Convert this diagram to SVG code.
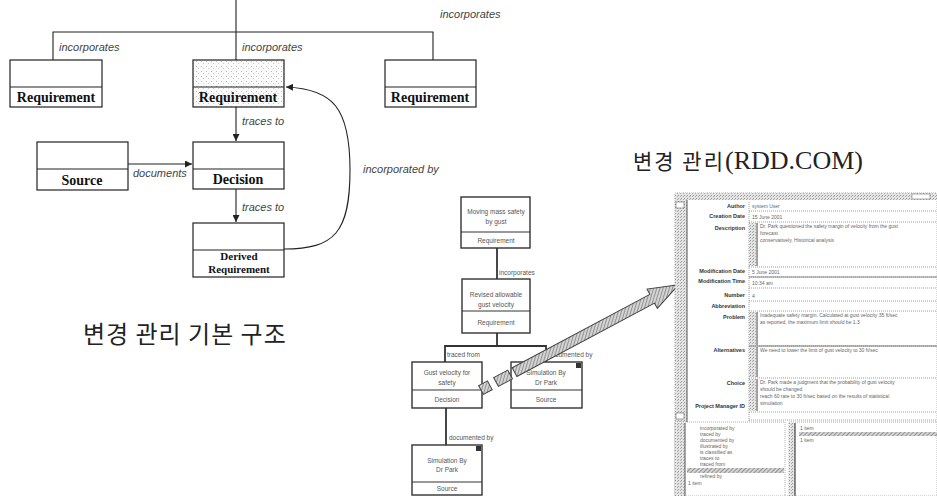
<svg xmlns="http://www.w3.org/2000/svg" width="937" height="496" viewBox="0 0 937 496">
<defs>
<style>
.box{fill:#fff;stroke:#222;stroke-width:1.2}
.ln{stroke:#222;stroke-width:1.1;fill:none}
.lbl{font-family:"Liberation Serif",serif;font-weight:bold;font-size:14px;text-anchor:middle;fill:#111}
.it{font-family:"Liberation Sans",sans-serif;font-style:italic;font-size:11px;fill:#444}
.kr{font-family:"Noto Sans CJK KR",sans-serif;fill:#222}
.mbox{fill:#fff;stroke:#333;stroke-width:1.4}
.mln{stroke:#333;stroke-width:1.8;fill:none}
.sm{font-family:"Liberation Sans",sans-serif;font-size:6.5px;fill:#555;text-anchor:middle}
.sml{font-family:"Liberation Sans",sans-serif;font-size:6.5px;fill:#555}
.fl{font-family:"Liberation Sans",sans-serif;font-size:5.5px;font-weight:bold;fill:#333;text-anchor:end}
.fv{font-family:"Liberation Sans",sans-serif;font-size:5px;fill:#666}
.dot{stroke:#888;stroke-width:0.8;stroke-dasharray:1 1;fill:none}
</style>
<pattern id="stip" width="5" height="5" patternUnits="userSpaceOnUse">
<rect width="5" height="5" fill="#fafafa"/>
<rect x="1" y="1" width="1" height="1" fill="#bbb"/>
<rect x="3" y="3" width="1" height="1" fill="#ccc"/>
</pattern>
<pattern id="stip2" width="3" height="3" patternUnits="userSpaceOnUse">
<rect width="3" height="3" fill="#e4e4e4"/>
<rect x="0" y="0" width="1" height="1" fill="#999"/>
<rect x="2" y="1" width="1" height="1" fill="#aaa"/>
</pattern>
<pattern id="hatch" width="3" height="3" patternUnits="userSpaceOnUse" patternTransform="rotate(45)">
<rect width="3" height="3" fill="#d4d4d4"/>
<line x1="0" y1="0" x2="0" y2="3" stroke="#666" stroke-width="1.2"/>
</pattern>
<marker id="ah" viewBox="0 0 10 10" refX="10" refY="5" markerWidth="7" markerHeight="7" orient="auto" markerUnits="userSpaceOnUse">
<path d="M0,0 L10,5 L0,10 z" fill="#222"/>
</marker>
</defs>
<rect width="937" height="496" fill="#fff"/>

<g id="connectors">
<line class="ln" x1="236" y1="0" x2="236" y2="60"/>
<polyline class="ln" points="53,60 53,32 433,32 433,60"/>
<line class="ln" x1="236" y1="107" x2="236" y2="141" marker-end="url(#ah)"/>
<line class="ln" x1="128" y1="164" x2="192" y2="164" marker-end="url(#ah)"/>
<line class="ln" x1="236" y1="189" x2="236" y2="222" marker-end="url(#ah)"/>
<path class="ln" d="M284,249 C335,249 350,232 350,170 C350,108 333,89 286,87" marker-end="url(#ah)"/>
<text class="it" x="440" y="18">incorporates</text>
<text class="it" x="59" y="51">incorporates</text>
<text class="it" x="242" y="51">incorporates</text>
<text class="it" x="242" y="125">traces to</text>
<text class="it" x="133" y="177">documents</text>
<text class="it" x="242" y="211">traces to</text>
<text class="it" x="363" y="173">incorporated by</text>
<line class="mln" x1="497" y1="248" x2="497" y2="279"/>
<polyline class="mln" points="497,333 497,346"/>
<polyline class="mln" points="445,362 445,346 546,346 546,362"/>
<line class="mln" x1="446" y1="408" x2="446" y2="445"/>
<text class="sml" x="499" y="275">incorporates</text>
<text class="sml" x="447" y="357">traced from</text>
<text class="sml" x="548" y="357">documented by</text>
<text class="sml" x="449" y="440">documented by</text>
</g>

<g id="req-left">
<rect class="box" x="10" y="60" width="92" height="47"/>
<line class="ln" x1="10" y1="87" x2="102" y2="87"/>
<text class="lbl" x="56" y="102">Requirement</text>
</g>
<g id="req-center">
<rect class="box" x="193" y="60" width="91" height="47" style="fill:url(#stip)"/>
<line class="ln" x1="193" y1="87" x2="284" y2="87"/>
<text class="lbl" x="238" y="102">Requirement</text>
</g>
<g id="req-right">
<rect class="box" x="385" y="60" width="91" height="47"/>
<line class="ln" x1="385" y1="87" x2="476" y2="87"/>
<text class="lbl" x="430" y="102">Requirement</text>
</g>
<g id="source">
<rect class="box" x="37" y="142" width="91" height="48"/>
<line class="ln" x1="37" y1="169" x2="128" y2="169"/>
<text class="lbl" x="82" y="185">Source</text>
</g>
<g id="decision">
<rect class="box" x="193" y="142" width="91" height="47"/>
<line class="ln" x1="193" y1="169" x2="284" y2="169"/>
<text class="lbl" x="238" y="184">Decision</text>
</g>
<g id="derived">
<rect class="box" x="193" y="223" width="91" height="54"/>
<line class="ln" x1="193" y1="250" x2="284" y2="250"/>
<text class="lbl" x="239" y="260" style="font-size:11px">Derived</text>
<text class="lbl" x="239" y="273" style="font-size:11px">Requirement</text>
</g>

<text class="kr" x="83" y="343" font-size="24" letter-spacing="1">변경 관리 기본 구조</text>
<text x="633" y="169" font-size="22"><tspan class="kr" font-size="21" letter-spacing="2">변경 관리</tspan><tspan font-family="'Liberation Serif',serif" font-size="26" fill="#222">(RDD.COM)</tspan></text>

<g id="m-req1">
<rect class="mbox" x="461" y="197" width="69" height="51"/>
<line class="mln" x1="461" y1="232" x2="530" y2="232" style="stroke-width:1"/>
<text class="sm" x="496" y="214">Moving mass safety</text>
<text class="sm" x="496" y="224">by gust</text>
<text class="sm" x="496" y="243">Requirement</text>
</g>
<g id="m-req2">
<rect class="mbox" x="462" y="279" width="68" height="54"/>
<line class="mln" x1="462" y1="311" x2="530" y2="311" style="stroke-width:1"/>
<text class="sm" x="496" y="297">Revised allowable</text>
<text class="sm" x="496" y="307">gust velocity</text>
<text class="sm" x="496" y="325">Requirement</text>
</g>
<g id="m-decision">
<rect class="mbox" x="412" y="362" width="70" height="46"/>
<line class="mln" x1="412" y1="390" x2="482" y2="390" style="stroke-width:1"/>
<text class="sm" x="447" y="375">Gust velocity for</text>
<text class="sm" x="447" y="385">safety</text>
<text class="sm" x="447" y="402">Decision</text>
</g>
<g id="m-source1">
<rect class="mbox" x="511" y="362" width="71" height="46"/>
<line class="mln" x1="511" y1="390" x2="582" y2="390" style="stroke-width:1"/>
<rect x="576" y="363" width="5" height="5" fill="#333"/>
<text class="sm" x="546" y="375">Simulation By</text>
<text class="sm" x="546" y="385">Dr Park</text>
<text class="sm" x="546" y="402">Source</text>
</g>
<g id="m-source2">
<rect class="mbox" x="412" y="445" width="70" height="50"/>
<line class="mln" x1="412" y1="482" x2="482" y2="482" style="stroke-width:1"/>
<rect x="476" y="446" width="5" height="5" fill="#333"/>
<text class="sm" x="447" y="463">Simulation By</text>
<text class="sm" x="447" y="472">Dr Park</text>
<text class="sm" x="447" y="491">Source</text>
</g>

<g id="big-arrow" transform="translate(481,390) rotate(-28.06)" fill="url(#hatch)" stroke="#444" stroke-width="1">
<rect x="0" y="-5" width="10" height="10"/>
<rect x="17" y="-5" width="16" height="10"/>
<polygon points="38,-5 194,-5 194,-11 224,0 194,11 194,5 38,5"/>
</g>

<g id="screen">
<rect x="675" y="193" width="262" height="303" fill="#fff" stroke="#999" stroke-width="0.8" stroke-dasharray="1 1"/>
<rect x="675" y="193" width="262" height="7" fill="url(#stip2)"/>
<rect x="912" y="194" width="18" height="5" fill="#fff" stroke="#777" stroke-width="0.6"/>
<rect x="675" y="200" width="12" height="222" fill="url(#stip2)"/>
<rect x="676" y="202" width="8" height="6" fill="#fff" stroke="#666" stroke-width="0.6"/>
<rect x="676" y="413" width="8" height="6" fill="#fff" stroke="#666" stroke-width="0.6"/>
<line x1="687" y1="200" x2="687" y2="422" stroke="#555" stroke-width="1"/>
<text class="fl" x="745" y="208">Author</text>
<text class="fl" x="745" y="218">Creation Date</text>
<text class="fl" x="745" y="230">Description</text>
<text class="fl" x="745" y="273">Modification Date</text>
<text class="fl" x="745" y="283">Modification Time</text>
<text class="fl" x="745" y="297">Number</text>
<text class="fl" x="745" y="308">Abbreviation</text>
<text class="fl" x="745" y="319">Problem</text>
<text class="fl" x="745" y="352">Alternatives</text>
<text class="fl" x="745" y="385">Choice</text>
<text class="fl" x="745" y="408">Project Manager ID</text>
<path class="dot" d="M749,211 H937 M749,222 H937 M749,267 H937 M749,277 H937 M749,288 H937 M749,301 H937 M749,311 H937 M749,346 H937 M749,378 H937 M749,412 H937 M749,420 H937"/>
<path class="dot" d="M749,202 V422"/>
<rect x="749" y="223" width="7" height="43" fill="url(#stip2)"/>
<line x1="757" y1="223" x2="757" y2="266" stroke="#444" stroke-width="1"/>
<rect x="749" y="312" width="7" height="33" fill="url(#stip2)"/>
<line x1="757" y1="312" x2="757" y2="345" stroke="#444" stroke-width="1"/>
<rect x="749" y="347" width="7" height="30" fill="url(#stip2)"/>
<line x1="757" y1="347" x2="757" y2="377" stroke="#444" stroke-width="1"/>
<rect x="749" y="379" width="7" height="32" fill="url(#stip2)"/>
<line x1="757" y1="379" x2="757" y2="411" stroke="#444" stroke-width="1"/>
<line x1="749" y1="277" x2="937" y2="277" stroke="#888" stroke-width="1"/>
<line x1="749" y1="346" x2="937" y2="346" stroke="#777" stroke-width="1.2"/>
<text class="fv" x="752" y="208">system User</text>
<text class="fv" x="752" y="219">15 June 2001</text>
<text class="fv" x="760" y="228">Dr. Park questioned the safety margin of velocity from the gust</text>
<text class="fv" x="760" y="235">forecast</text>
<text class="fv" x="760" y="242">conservatively. Historical analysis</text>
<text class="fv" x="752" y="274">5 June 2001</text>
<text class="fv" x="752" y="285">10:34 am</text>
<text class="fv" x="752" y="298">4</text>
<text class="fv" x="760" y="317">Inadequate safety margin. Calculated at gust velocity 35 ft/sec</text>
<text class="fv" x="760" y="324">as reported, the maximum limit should be 1.3</text>
<text class="fv" x="760" y="352">We need to lower the limit of gust velocity to 30 ft/sec</text>
<text class="fv" x="760" y="384">Dr. Park made a judgment that the probability of gust velocity</text>
<text class="fv" x="760" y="391">should be changed</text>
<text class="fv" x="760" y="398">reach 60 rate to 30 ft/sec based on the results of statistical</text>
<text class="fv" x="760" y="405">simulation</text>
<rect x="675" y="422" width="110" height="74" fill="#fff" stroke="#999" stroke-width="0.8" stroke-dasharray="1 1"/>
<rect x="675" y="423" width="10" height="73" fill="url(#stip2)"/>
<line x1="685" y1="423" x2="685" y2="496" stroke="#555" stroke-width="1"/>
<text class="fv" x="700" y="430">incorporated by</text>
<text class="fv" x="700" y="436">traced by</text>
<text class="fv" x="700" y="442">documented by</text>
<text class="fv" x="700" y="448">illustrated by</text>
<text class="fv" x="700" y="454">is classified as</text>
<text class="fv" x="700" y="460">traces to</text>
<text class="fv" x="700" y="466">traced from</text>
<rect x="687" y="468" width="97" height="5" fill="url(#hatch)"/>
<text class="fv" x="700" y="478">refined by</text>
<text class="fv" x="688" y="485">1 item</text>
<rect x="789" y="422" width="148" height="74" fill="#fff" stroke="#999" stroke-width="0.8" stroke-dasharray="1 1"/>
<rect x="789" y="423" width="6" height="73" fill="url(#stip2)"/>
<line x1="795" y1="423" x2="795" y2="496" stroke="#444" stroke-width="1.2"/>
<text class="fv" x="800" y="430">1 item</text>
<rect x="799" y="432" width="138" height="4" fill="url(#hatch)"/>
<text class="fv" x="800" y="442">1 item</text>
</g>
</svg>
